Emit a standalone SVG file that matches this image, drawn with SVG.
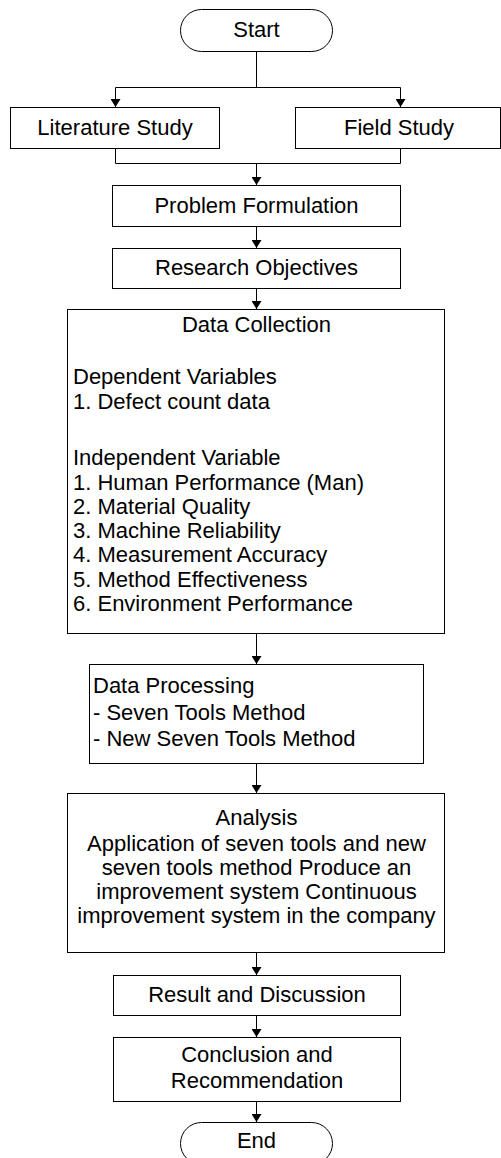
<svg xmlns="http://www.w3.org/2000/svg" width="501" height="1158" viewBox="0 0 501 1158">
<style>
.box{fill:#fff;stroke:#000;stroke-width:1}
.t{font-family:"Liberation Sans",Arial,sans-serif;font-size:22px;fill:#000}
.c{text-anchor:middle}
.ln{fill:none;stroke:#000;stroke-width:1}
</style>
<defs>
<marker id="ah" markerWidth="8" markerHeight="10" refX="8" refY="5" orient="auto" markerUnits="userSpaceOnUse">
<path d="M0,0 L8,5 L0,10 Z" fill="#000"/>
</marker>
</defs>
<rect width="501" height="1158" fill="#fff"/>
<g id="connectors">
<path class="ln" d="M256.5,51 V87.5"/>
<path class="ln" d="M115.5,87.5 H400.5"/>
<path class="ln" d="M115.5,87.5 V107" marker-end="url(#ah)"/>
<path class="ln" d="M400.5,87.5 V107" marker-end="url(#ah)"/>
<path class="ln" d="M115.5,148 V163.5 H400.5 V148"/>
<path class="ln" d="M256.5,163.5 V185" marker-end="url(#ah)"/>
<path class="ln" d="M256.5,226 V248" marker-end="url(#ah)"/>
<path class="ln" d="M256.5,288 V309" marker-end="url(#ah)"/>
<path class="ln" d="M256.5,633 V664" marker-end="url(#ah)"/>
<path class="ln" d="M256.5,763 V793" marker-end="url(#ah)"/>
<path class="ln" d="M256.5,952 V975" marker-end="url(#ah)"/>
<path class="ln" d="M256.5,1015 V1037" marker-end="url(#ah)"/>
<path class="ln" d="M256.5,1101 V1122" marker-end="url(#ah)"/>
</g>
<g id="start">
<rect class="box" x="180.5" y="9.5" width="152" height="42" rx="21" ry="21"/>
<text class="t c" x="256.5" y="37">Start</text>
</g>
<g id="literature">
<rect class="box" x="10.5" y="107.5" width="209" height="41"/>
<text class="t c" x="115" y="135">Literature Study</text>
</g>
<g id="field">
<rect class="box" x="295.5" y="107.5" width="205" height="41"/>
<text class="t c" x="399" y="135">Field Study</text>
</g>
<g id="problem">
<rect class="box" x="112.5" y="185.5" width="288" height="41"/>
<text class="t c" x="256.5" y="213">Problem Formulation</text>
</g>
<g id="objectives">
<rect class="box" x="112.5" y="248.5" width="288" height="40"/>
<text class="t c" x="256.5" y="275">Research Objectives</text>
</g>
<g id="datacollection">
<rect class="box" x="67.5" y="309.5" width="377" height="324"/>
<text class="t c" x="256.5" y="332">Data Collection</text>
<text class="t" x="73" y="384">Dependent Variables</text>
<text class="t" x="73" y="409">1. Defect count data</text>
<text class="t" x="73" y="465">Independent Variable</text>
<text class="t" x="73" y="490">1. Human Performance (Man)</text>
<text class="t" x="73" y="514">2. Material Quality</text>
<text class="t" x="73" y="538">3. Machine Reliability</text>
<text class="t" x="73" y="562">4. Measurement Accuracy</text>
<text class="t" x="73" y="587">5. Method Effectiveness</text>
<text class="t" x="73" y="611">6. Environment Performance</text>
</g>
<g id="dataprocessing">
<rect class="box" x="89.5" y="664.5" width="334" height="99"/>
<text class="t" x="93" y="693">Data Processing</text>
<text class="t" x="93" y="720">- Seven Tools Method</text>
<text class="t" x="93" y="746">- New Seven Tools Method</text>
</g>
<g id="analysis">
<rect class="box" x="67.5" y="793.5" width="377" height="159"/>
<text class="t c" x="256.5" y="825">Analysis</text>
<text class="t c" x="256.5" y="851">Application of seven tools and new</text>
<text class="t c" x="256.5" y="875">seven tools method Produce an</text>
<text class="t c" x="256.5" y="899">improvement system Continuous</text>
<text class="t c" x="256.5" y="923">improvement system in the company</text>
</g>
<g id="result">
<rect class="box" x="113.5" y="975.5" width="287" height="40"/>
<text class="t c" x="257" y="1002">Result and Discussion</text>
</g>
<g id="conclusion">
<rect class="box" x="113.5" y="1037.5" width="287" height="64"/>
<text class="t c" x="257" y="1062">Conclusion and</text>
<text class="t c" x="257" y="1088">Recommendation</text>
</g>
<g id="end">
<rect class="box" x="180.5" y="1122.5" width="152" height="42" rx="21" ry="21"/>
<text class="t c" x="256.5" y="1148">End</text>
</g>
</svg>
